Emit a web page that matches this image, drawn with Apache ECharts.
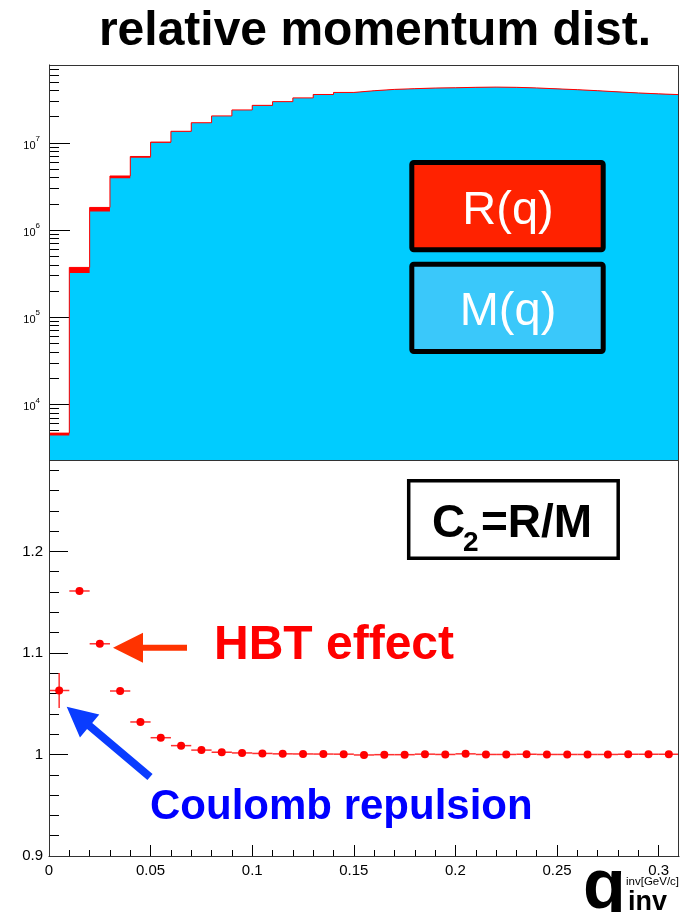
<!DOCTYPE html>
<html>
<head>
<meta charset="utf-8">
<script src="https://cdn.jsdelivr.net/npm/echarts@6/dist/echarts.min.js"></script>
<style>
  html, body { margin: 0; padding: 0; background: #fff; }
  #chart { width: 681px; height: 912px; }
</style>
</head>
<body>
<div id="chart"></div>
<script>
// q_inv binning (GeV/c): lower bin edges, upper edge of the last bin, bin centres
const binLow = [0.00, 0.01, 0.02, 0.03, 0.04, 0.05, 0.06, 0.07, 0.08, 0.09,
                0.10, 0.11, 0.12, 0.13, 0.14, 0.15, 0.16, 0.17, 0.18, 0.19,
                0.20, 0.21, 0.22, 0.23, 0.24, 0.25, 0.26, 0.27, 0.28, 0.29, 0.30];
const binHigh = 0.31;
const binCenters = [0.005, 0.015, 0.025, 0.035, 0.045, 0.055, 0.065, 0.075, 0.085, 0.095,
                    0.105, 0.115, 0.125, 0.135, 0.145, 0.155, 0.165, 0.175, 0.185, 0.195,
                    0.205, 0.215, 0.225, 0.235, 0.245, 0.255, 0.265, 0.275, 0.285, 0.295, 0.305];
const halfBin = 0.005;

// R(q): same-event pair counts
const realPairs = [4.68e3, 3.73e5, 1.82e6, 4.18e6, 7.00e6, 1.024e7, 1.362e7, 1.707e7, 2.044e7, 2.394e7,
                   2.703e7, 2.982e7, 3.292e7, 3.601e7, 3.801e7, 3.978e7, 4.119e7, 4.199e7, 4.271e7, 4.300e7,
                   4.353e7, 4.380e7, 4.350e7, 4.281e7, 4.180e7, 4.090e7, 3.980e7, 3.860e7, 3.751e7, 3.661e7, 3.591e7];
// M(q): mixed-event pair counts
const mixedPairs = [4.40e3, 3.21e5, 1.64e6, 3.93e6, 6.78e6, 1.007e7, 1.350e7, 1.700e7, 2.040e7, 2.390e7,
                    2.700e7, 2.980e7, 3.290e7, 3.600e7, 3.800e7, 3.980e7, 4.120e7, 4.200e7, 4.270e7, 4.300e7,
                    4.350e7, 4.380e7, 4.350e7, 4.280e7, 4.180e7, 4.090e7, 3.980e7, 3.860e7, 3.750e7, 3.660e7, 3.590e7];
// C2 = R/M and its statistical error
const c2 = [1.063, 1.161, 1.109, 1.0625, 1.032, 1.0165, 1.0087, 1.0043, 1.0022, 1.0015,
            1.0010, 1.0006, 1.0005, 1.0004, 1.0003, 0.9995, 0.9998, 0.9998, 1.0003, 1.0000,
            1.0006, 1.0000, 1.0000, 1.0002, 1.0000, 1.0000, 1.0000, 1.0000, 1.0002, 1.0002, 1.0002];
const c2Err = [0.0172, 0.0020, 0.0012, 0.0008, 0.0006, 0.0005, 0.0005, 0.0004, 0.0004, 0.0004,
               0.0004, 0.0004, 0.0004, 0.0004, 0.0004, 0.0004, 0.0004, 0.0004, 0.0004, 0.0004,
               0.0004, 0.0004, 0.0004, 0.0004, 0.0004, 0.0004, 0.0004, 0.0004, 0.0004, 0.0004, 0.0004];

// axis ranges and tick values
const countMin = 2300, countMax = 7.85e7;
const countMajorTicks = [1e4, 1e5, 1e6, 1e7];
const countMinorTicks = [3e3, 4e3, 5e3, 6e3, 7e3, 8e3, 9e3,
                         2e4, 3e4, 4e4, 5e4, 6e4, 7e4, 8e4, 9e4,
                         2e5, 3e5, 4e5, 5e5, 6e5, 7e5, 8e5, 9e5,
                         2e6, 3e6, 4e6, 5e6, 6e6, 7e6, 8e6, 9e6,
                         2e7, 3e7, 4e7, 5e7, 6e7, 7e7];
const qMin = 0, qMax = 0.31;
const qMajorTicks = [0, 0.05, 0.1, 0.15, 0.2, 0.25, 0.3];
const qMinorTicks = [0.01, 0.02, 0.03, 0.04, 0.06, 0.07, 0.08, 0.09, 0.11, 0.12, 0.13, 0.14,
                     0.16, 0.17, 0.18, 0.19, 0.21, 0.22, 0.23, 0.24, 0.26, 0.27, 0.28, 0.29];
const c2Min = 0.9, c2Max = 1.29;
const c2MajorTicks = [0.9, 1.0, 1.1, 1.2];
const c2MinorTicks = [0.92, 0.94, 0.96, 0.98, 1.02, 1.04, 1.06, 1.08, 1.12, 1.14, 1.16, 1.18,
                      1.22, 1.24, 1.26, 1.28];

// page layout
const FONT = '"Liberation Sans", Arial, Helvetica, sans-serif';
const padL = 49, padR = 679, topY = 65, midY = 460, botY = 856;

const chart = echarts.init(document.getElementById('chart'), null, { renderer: 'canvas' });

function stepData(vals) {
  const d = binLow.map((x, i) => [x, vals[i]]);
  d.push([binHigh, vals[vals.length - 1]]);
  return d;
}

function arrowPoints(tail, tip, shaftW, headL, headHalf) {
  const dx = tip[0] - tail[0], dy = tip[1] - tail[1];
  const len = Math.sqrt(dx * dx + dy * dy);
  const ux = dx / len, uy = dy / len;       // along the arrow
  const nx = -uy, ny = ux;                   // normal
  const bx = tip[0] - ux * headL, by = tip[1] - uy * headL;
  const s = shaftW / 2;
  return [
    [tail[0] + nx * s, tail[1] + ny * s],
    [bx + nx * s, by + ny * s],
    [bx + nx * headHalf, by + ny * headHalf],
    tip,
    [bx - nx * headHalf, by - ny * headHalf],
    [bx - nx * s, by - ny * s],
    [tail[0] - nx * s, tail[1] - ny * s]
  ];
}

const tickLine = { color: '#000', width: 1 };

const option = {
  animation: false,
  backgroundColor: '#fff',
  grid: [
    { left: padL, top: topY, width: padR - padL, height: midY - topY, outerBoundsMode: 'none' },
    { left: padL, top: midY, width: padR - padL, height: botY - midY, outerBoundsMode: 'none' }
  ],
  xAxis: [
    { gridIndex: 0, type: 'value', min: qMin, max: qMax,
      axisLine: { show: false }, axisTick: { show: false }, axisLabel: { show: false }, splitLine: { show: false } },
    { gridIndex: 1, type: 'value', min: qMin, max: qMax, position: 'bottom',
      axisLine: { show: true, onZero: false, lineStyle: tickLine },
      axisTick: { show: true, inside: true, length: 11, lineStyle: tickLine, customValues: qMajorTicks },
      axisLabel: { show: true, margin: 7, fontSize: 15, color: '#000', fontFamily: FONT, customValues: qMajorTicks },
      splitLine: { show: false } },
    { gridIndex: 1, type: 'value', min: qMin, max: qMax, position: 'bottom',
      axisLine: { show: false },
      axisTick: { show: true, inside: true, length: 6, lineStyle: tickLine, customValues: qMinorTicks },
      axisLabel: { show: false }, splitLine: { show: false } }
  ],
  yAxis: [
    { gridIndex: 0, type: 'log', logBase: 10, min: countMin, max: countMax, position: 'left',
      axisLine: { show: true, onZero: false, lineStyle: tickLine },
      axisTick: { show: true, inside: true, length: 21, lineStyle: tickLine, customValues: countMajorTicks },
      axisLabel: {
        show: true, margin: 9, color: '#000', fontFamily: FONT, customValues: countMajorTicks,
        formatter: v => '{b|10}{s|' + Math.round(Math.log10(v)) + '}',
        rich: {
          b: { fontSize: 11, lineHeight: 16, verticalAlign: 'bottom', fontFamily: FONT, color: '#000' },
          s: { fontSize: 8, lineHeight: 16, verticalAlign: 'top', fontFamily: FONT, color: '#000' }
        }
      },
      splitLine: { show: false } },
    { gridIndex: 0, type: 'log', logBase: 10, min: countMin, max: countMax, position: 'left',
      axisLine: { show: false },
      axisTick: { show: true, inside: true, length: 10, lineStyle: tickLine, customValues: countMinorTicks },
      axisLabel: { show: false }, splitLine: { show: false } },
    { gridIndex: 1, type: 'value', min: c2Min, max: c2Max, position: 'left',
      axisLine: { show: true, onZero: false, lineStyle: tickLine },
      axisTick: { show: true, inside: true, length: 19, lineStyle: tickLine, customValues: c2MajorTicks },
      axisLabel: { show: true, margin: 6, fontSize: 15, color: '#000', fontFamily: FONT, customValues: c2MajorTicks },
      splitLine: { show: false } },
    { gridIndex: 1, type: 'value', min: c2Min, max: c2Max, position: 'left',
      axisLine: { show: false },
      axisTick: { show: true, inside: true, length: 10, lineStyle: tickLine, customValues: c2MinorTicks },
      axisLabel: { show: false }, splitLine: { show: false } }
  ],
  series: [
    { // R(q) filled histogram
      type: 'line', xAxisIndex: 0, yAxisIndex: 0, step: 'end', symbol: 'none', z: 2,
      data: stepData(realPairs),
      lineStyle: { width: 0, color: '#ff0000' },
      areaStyle: { color: '#ff0000', opacity: 1, origin: 'start' }
    },
    { // M(q) filled histogram
      type: 'line', xAxisIndex: 0, yAxisIndex: 0, step: 'end', symbol: 'none', z: 3,
      data: stepData(mixedPairs),
      lineStyle: { width: 0, color: '#00ccff' },
      areaStyle: { color: '#00ccff', opacity: 1, origin: 'start' }
    },
    { // R(q) outline
      type: 'line', xAxisIndex: 0, yAxisIndex: 0, step: 'end', symbol: 'none', z: 4,
      data: stepData(realPairs),
      lineStyle: { width: 1, color: '#ff0000' }
    },
    { // C2 points with error bars
      type: 'custom', xAxisIndex: 1, yAxisIndex: 2, z: 5,
      data: binCenters.map((x, i) => [x, c2[i], c2Err[i]]),
      encode: { x: 0, y: 1 },
      renderItem: function (params, api) {
        const x = api.value(0), y = api.value(1), e = api.value(2);
        const p = api.coord([x, y]);
        const l = api.coord([x - halfBin, y]);
        const r = api.coord([x + halfBin, y]);
        const t = api.coord([x, y + e]);
        const b = api.coord([x, y - e]);
        const bar = { stroke: '#ff3030', lineWidth: 1.5 };
        return {
          type: 'group',
          children: [
            { type: 'line', shape: { x1: l[0], y1: l[1], x2: r[0], y2: r[1] }, style: bar },
            { type: 'line', shape: { x1: b[0], y1: b[1], x2: t[0], y2: t[1] }, style: bar },
            { type: 'circle', shape: { cx: p[0], cy: p[1], r: 4 }, style: { fill: '#ff0000' } }
          ]
        };
      }
    }
  ],
  graphic: [
    // pad frames
    { type: 'rect', z: 50, silent: true,
      shape: { x: padL + 0.5, y: topY + 0.5, width: padR - padL - 1, height: midY - topY },
      style: { fill: null, stroke: '#333', lineWidth: 1 } },
    { type: 'rect', z: 50, silent: true,
      shape: { x: padL + 0.5, y: midY + 0.5, width: padR - padL - 1, height: botY - midY },
      style: { fill: null, stroke: '#333', lineWidth: 1 } },

    // title
    { type: 'text', z: 60, style: { text: 'relative momentum dist.', x: 375, y: 32,
      align: 'center', verticalAlign: 'middle', font: 'bold 48px ' + FONT, fill: '#000' } },

    // legend boxes
    { type: 'rect', z: 60, shape: { x: 411.8, y: 162.5, width: 191.4, height: 87.3, r: 2 },
      style: { fill: '#ff2200', stroke: '#000', lineWidth: 5 } },
    { type: 'text', z: 61, style: { text: 'R(q)', x: 508, y: 211.5, align: 'center', verticalAlign: 'middle',
      font: '47px ' + FONT, fill: '#fff' } },
    { type: 'rect', z: 60, shape: { x: 411.8, y: 264.2, width: 191.4, height: 87.3, r: 2 },
      style: { fill: '#3ac8fa', stroke: '#000', lineWidth: 5 } },
    { type: 'text', z: 61, style: { text: 'M(q)', x: 508, y: 312.5, align: 'center', verticalAlign: 'middle',
      font: '47px ' + FONT, fill: '#fff' } },

    // correlation function label
    { type: 'rect', z: 60, shape: { x: 408.7, y: 480.7, width: 209.5, height: 77.5 },
      style: { fill: '#fff', stroke: '#000', lineWidth: 3.5 } },
    { type: 'text', z: 61, style: { text: 'C', x: 432, y: 524, align: 'left', verticalAlign: 'middle',
      font: 'bold 46px ' + FONT, fill: '#000' } },
    { type: 'text', z: 61, style: { text: '2', x: 463, y: 543.5, align: 'left', verticalAlign: 'middle',
      font: 'bold 28px ' + FONT, fill: '#000' } },
    { type: 'text', z: 61, style: { text: '=R/M', x: 481, y: 524, align: 'left', verticalAlign: 'middle',
      font: 'bold 46px ' + FONT, fill: '#000' } },

    // annotations
    { type: 'polygon', z: 60, shape: { points: arrowPoints([187, 647.7], [113, 647.7], 6, 30, 15) },
      style: { fill: '#ff3300' } },
    { type: 'text', z: 61, style: { text: 'HBT effect', x: 214, y: 645.5, align: 'left', verticalAlign: 'middle',
      font: 'bold 48px ' + FONT, fill: '#ff0000' } },
    { type: 'polygon', z: 60, shape: { points: arrowPoints([150, 777], [66.7, 706.7], 8, 30, 15) },
      style: { fill: '#0a3cff' } },
    { type: 'text', z: 61, style: { text: 'Coulomb repulsion', x: 150, y: 807.5, align: 'left', verticalAlign: 'middle',
      font: 'bold 42px ' + FONT, fill: '#0000ff' } },

    // x axis title
    { type: 'text', z: 61, style: { text: 'q', x: 583, y: 889, align: 'left', verticalAlign: 'middle',
      font: 'bold 70px ' + FONT, fill: '#000' } },
    { type: 'text', z: 61, style: { text: 'inv', x: 628, y: 903, align: 'left', verticalAlign: 'middle',
      font: 'bold 27px ' + FONT, fill: '#000' } },
    { type: 'text', z: 62, style: { text: 'inv[GeV/c]', x: 626, y: 882, align: 'left', verticalAlign: 'middle',
      font: '11.5px ' + FONT, fill: '#000' } }
  ]
};

chart.setOption(option);
</script>
</body>
</html>
